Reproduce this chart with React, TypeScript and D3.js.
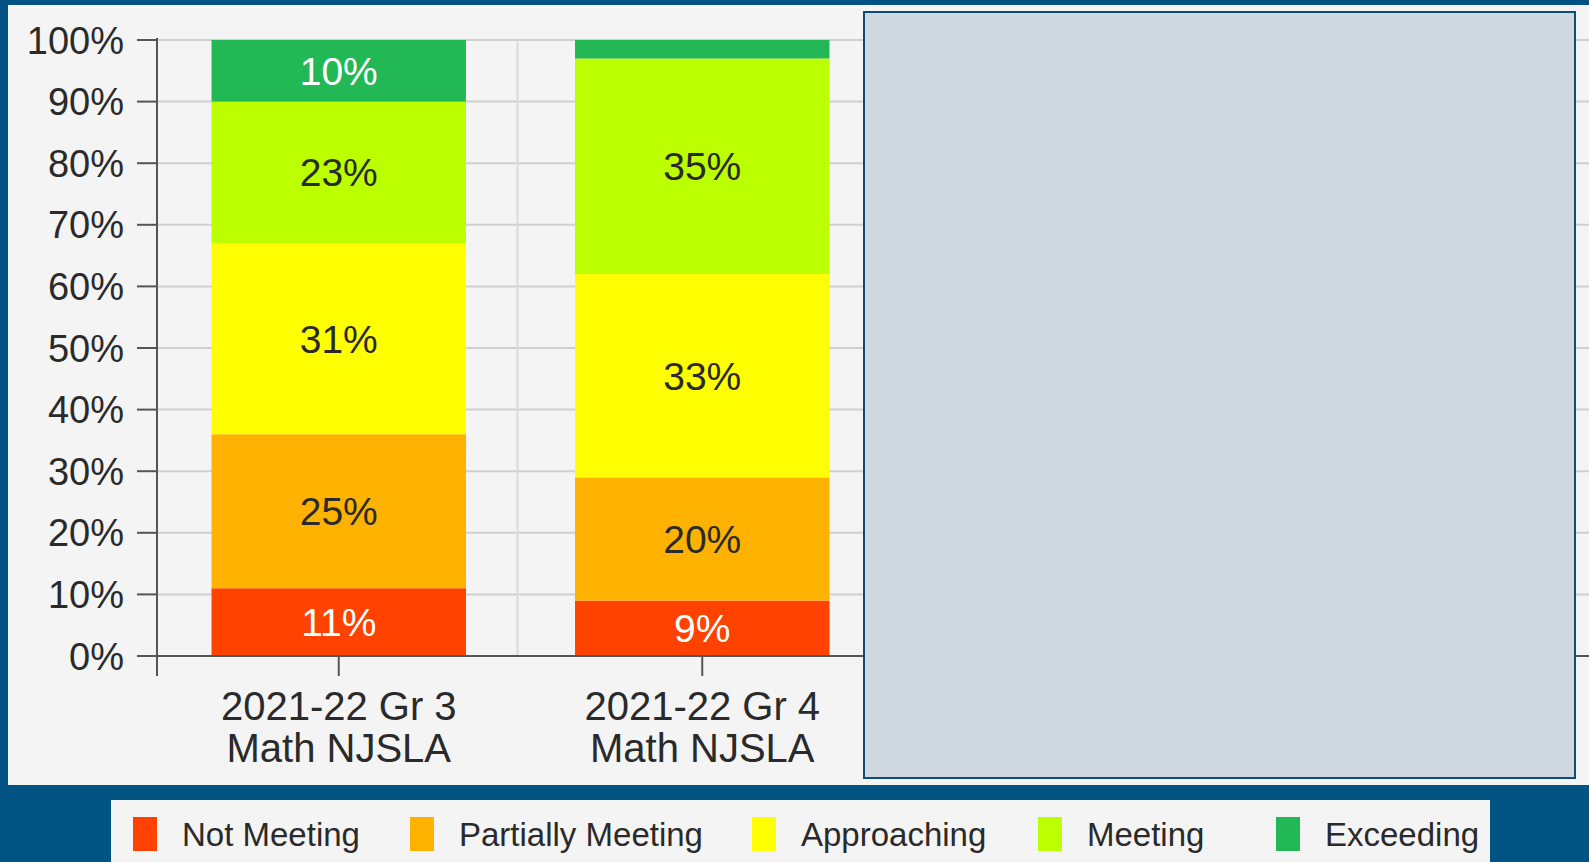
import React from 'react';
import { scaleBand, scaleLinear, stack } from 'd3';

const categories = ['2021-22 Gr 3\nMath NJSLA', '2021-22 Gr 4\nMath NJSLA'];
const levels = ['Not Meeting', 'Partially Meeting', 'Approaching', 'Meeting', 'Exceeding'];
const notMeeting = [11, 9];
const partiallyMeeting = [25, 20];
const approaching = [31, 33];
const meeting = [23, 35];
const exceeding = [10, 3];
const yTicks = [0, 10, 20, 30, 40, 50, 60, 70, 80, 90, 100];

const colors = ['#ff4200', '#ffb300', '#ffff00', '#bbff00', '#22b855'];
const labelColors = ['#ffffff', '#2a2a2a', '#2a2a2a', '#2a2a2a', '#ffffff'];

const W = 1589;
const H = 862;
const font = '"Liberation Sans", Arial, sans-serif';

export default function App() {
  const series = [notMeeting, partiallyMeeting, approaching, meeting, exceeding];
  const rows = categories.map((c, i) => {
    const r: any = { cat: c };
    levels.forEach((l, j) => (r[l] = series[j][i]));
    return r;
  });
  const stacked = stack().keys(levels)(rows);

  const y = scaleLinear().domain([0, 100]).range([656, 40]);
  const x = scaleBand()
    .domain(categories)
    .range([157, 884])
    .paddingInner(0.3)
    .paddingOuter(0.15);

  // legend swatch x positions
  const legendX = [133, 410, 752, 1038, 1276];

  return (
    <svg
      width={W}
      height={H}
      style={{ position: 'absolute', left: 0, top: 0, display: 'block' }}
    >
      <rect x={0} y={0} width={W} height={H} fill="#005382" />
      <rect x={8} y={5} width={W - 8} height={780} fill="#f4f4f4" />

      {/* gridlines */}
      {yTicks.map((t) => (
        <line key={'g' + t} x1={157} x2={W} y1={y(t)} y2={y(t)} stroke="#cfcfcf" strokeWidth={2} />
      ))}
      {[x.range()[0] + x.step(), x.range()[0] + 2 * x.step()].map((gx, i) => (
        <line key={'v' + i} x1={gx - 3} x2={gx - 3} y1={y(100)} y2={y(0)} stroke="#dadada" strokeWidth={2} />
      ))}

      {/* bars */}
      {stacked.map((s, j) => (
        <g key={s.key}>
          {s.map((d, i) => {
            const h = y(d[0]) - y(d[1]);
            const v = d[1] - d[0];
            return (
              <g key={i}>
                <rect
                  x={x(categories[i])}
                  y={y(d[1])}
                  width={x.bandwidth()}
                  height={h}
                  fill={colors[j]}
                />
                {v >= 5 && (
                  <text
                    x={(x(categories[i]) as number) + x.bandwidth() / 2}
                    y={(y(d[0]) + y(d[1])) / 2}
                    dy="0.36em"
                    textAnchor="middle"
                    fontFamily={font}
                    fontSize={39}
                    fill={labelColors[j]}
                  >
                    {v}%
                  </text>
                )}
              </g>
            );
          })}
        </g>
      ))}

      {/* y axis */}
      <line x1={157} x2={157} y1={y(100) - 2} y2={676} stroke="#555" strokeWidth={2} />
      {yTicks.map((t) => (
        <g key={'t' + t}>
          <line x1={137} x2={157} y1={y(t)} y2={y(t)} stroke="#555" strokeWidth={2} />
          <text
            x={124}
            y={y(t)}
            dy="0.36em"
            textAnchor="end"
            fontFamily={font}
            fontSize={38}
            fill="#2a2a2a"
          >
            {t}%
          </text>
        </g>
      ))}

      {/* x axis */}
      <line x1={157} x2={W} y1={y(0)} y2={y(0)} stroke="#555" strokeWidth={2} />
      {categories.map((c) => {
        const cx = (x(c) as number) + x.bandwidth() / 2;
        return (
          <g key={c}>
            <line x1={cx} x2={cx} y1={y(0)} y2={676} stroke="#555" strokeWidth={2} />
            {c.split('\n').map((line, k) => (
              <text
                key={k}
                x={cx}
                y={706 + k * 42}
                dy="0.36em"
                textAnchor="middle"
                fontFamily={font}
                fontSize={40}
                fill="#2a2a2a"
              >
                {line}
              </text>
            ))}
          </g>
        );
      })}

      {/* covering box */}
      <rect x={864} y={12} width={711} height={766} fill="#cfd7df" stroke="#0b4d76" strokeWidth={2} />

      {/* legend */}
      <rect x={111} y={800} width={1379} height={62} fill="#f4f4f4" />
      {levels.map((l, j) => (
        <g key={l}>
          <rect x={legendX[j]} y={817} width={24} height={34} fill={colors[j]} />
          <text
            x={legendX[j] + 49}
            y={834}
            dy="0.36em"
            fontFamily={font}
            fontSize={33}
            fill="#2a2a2a"
          >
            {l}
          </text>
        </g>
      ))}
    </svg>
  );
}
